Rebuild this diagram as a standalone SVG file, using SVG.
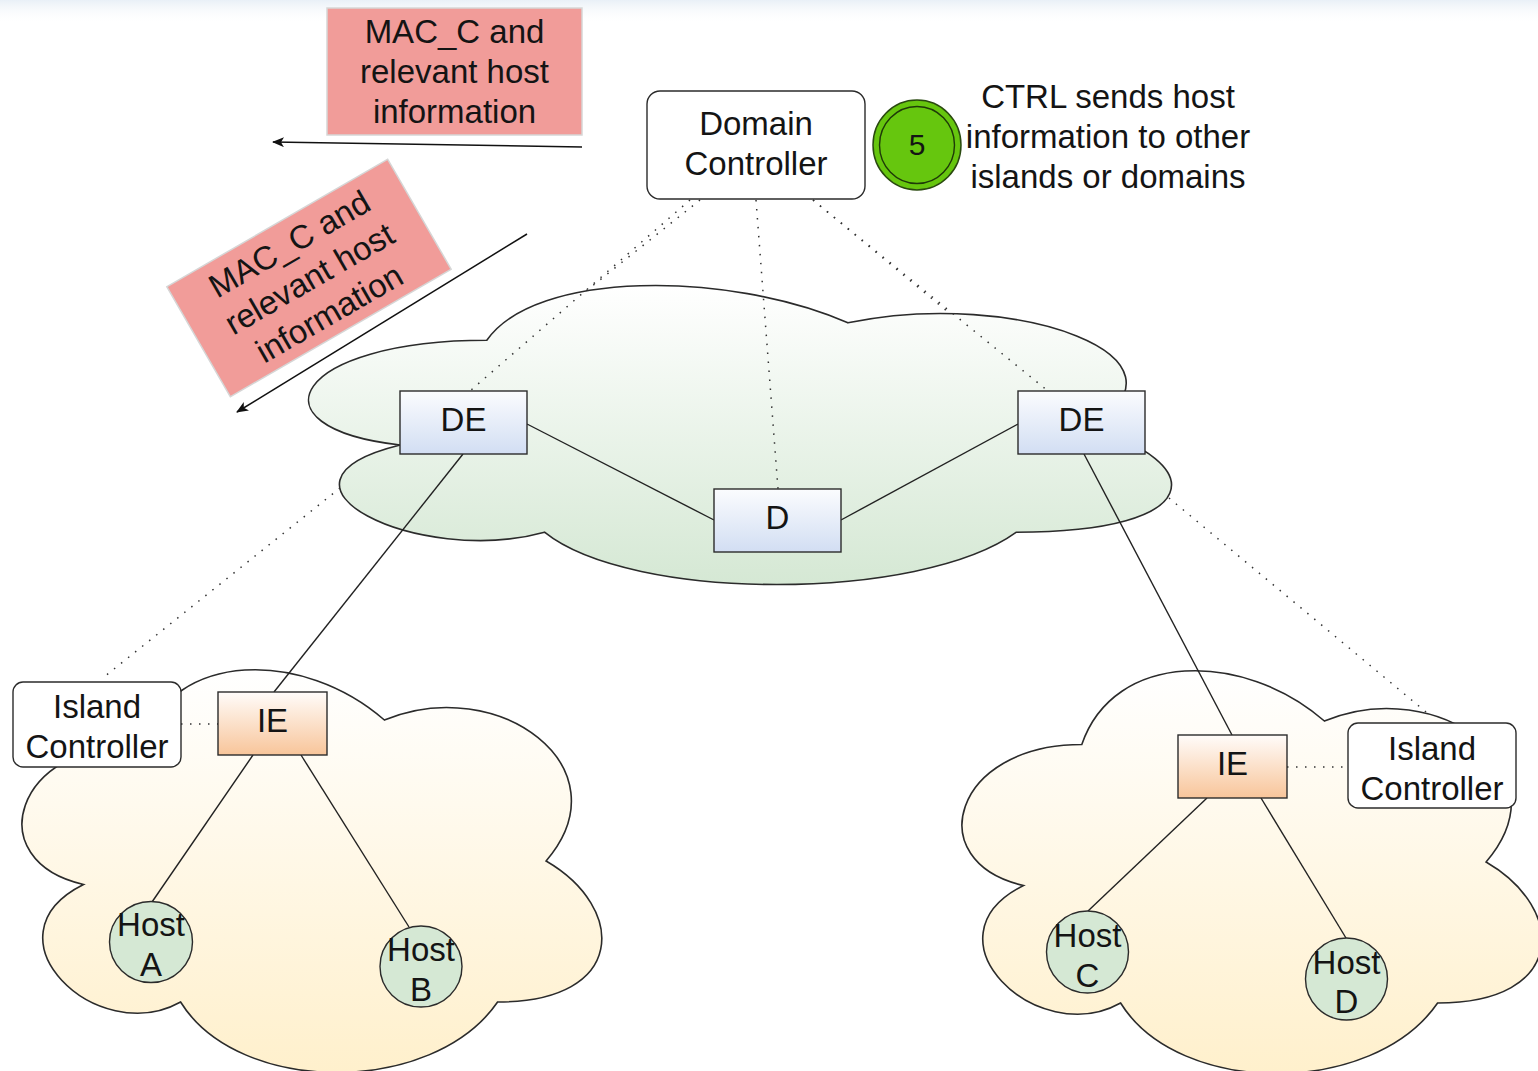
<svg xmlns="http://www.w3.org/2000/svg" width="1538" height="1071" viewBox="0 0 1538 1071">
<defs>
<style>
text{font-family:"Liberation Sans",Arial,Helvetica,sans-serif;font-size:33px;fill:#141414;text-anchor:middle}
.box{stroke:#2b2b2b;stroke-width:1.4}
.ctrl{fill:#ffffff;stroke:#2b2b2b;stroke-width:1.4}
.cloud{stroke:#2b2b2b;stroke-width:1.6}
.host{fill:#d5e8d4;stroke:#2b2b2b;stroke-width:1.4}
.label{fill:#f19c99;stroke:#d6d6d6;stroke-width:1.5}
.solid{fill:none;stroke:#222;stroke-width:1.4}
.dot{fill:none;stroke:#333;stroke-width:1.5;stroke-dasharray:1.5 7.5}
.arrow{fill:none;stroke:#111;stroke-width:1.5;marker-end:url(#arr)}
</style>
<linearGradient id="gTop" x1="0" y1="0" x2="0" y2="1"><stop offset="0" stop-color="#e9f0f7"/><stop offset="1" stop-color="#ffffff" stop-opacity="0"/></linearGradient>
<linearGradient id="gGreen" x1="0" y1="0" x2="0" y2="1"><stop offset="0" stop-color="#ffffff"/><stop offset="1" stop-color="#d5e8d4"/></linearGradient>
<linearGradient id="gYellow" x1="0" y1="0" x2="0" y2="1"><stop offset="0" stop-color="#ffffff"/><stop offset="1" stop-color="#fff0cc"/></linearGradient>
<linearGradient id="gBlue" x1="0" y1="0" x2="0" y2="1"><stop offset="0" stop-color="#fbfcfe"/><stop offset="1" stop-color="#d2def3"/></linearGradient>
<linearGradient id="gOrange" x1="0" y1="0" x2="0" y2="1"><stop offset="0" stop-color="#fffcfa"/><stop offset="1" stop-color="#f8c59a"/></linearGradient>
<marker id="arr" viewBox="0 0 12 10" refX="11" refY="5" markerWidth="12" markerHeight="10" markerUnits="userSpaceOnUse" orient="auto">
<path d="M0,0 L12,5 L0,10 L3,5 Z" fill="#111"/>
</marker>
</defs>
<rect x="0" y="0" width="1538" height="1071" fill="#ffffff"/>
<rect x="0" y="0" width="1538" height="24" fill="url(#gTop)"/>

<g id="clouds">
<path id="cloud-domain" class="cloud" fill="url(#gGreen)" d="M486.8,340.3 C294.2,340.3 246,427.5 400.1,445 C246,483.3 419.3,567.1 544.5,532.2 C631.2,602 920.1,602 1016.4,532.2 C1209,532.2 1209,462.4 1088.6,427.5 C1209,357.7 1016.4,287.9 847.9,322.8 C727.5,270.5 534.9,270.5 486.8,340.3 Z"/>
<path id="cloud-island-left" class="cloud" fill="url(#gYellow)" d="M141.8,743.5 C12.4,743.5 -20,861 83.5,884.5 C-20,936.2 96.5,1049 180.6,1002 C238.8,1096 432.9,1096 497.6,1002 C627,1002 627,908 546.1,861 C627,767 497.6,673 384.4,720 C303.5,649.5 174.1,649.5 141.8,743.5 Z"/>
<path id="cloud-island-right" class="cloud" fill="url(#gYellow)" d="M1081.8,744.5 C952.4,744.5 920,862 1023.5,885.5 C920,937.2 1036.5,1050 1120.6,1003 C1178.8,1097 1372.9,1097 1437.6,1003 C1567,1003 1567,909 1486.1,862 C1567,768 1437.6,674 1324.4,721 C1243.5,650.5 1114.1,650.5 1081.8,744.5 Z"/>
</g>

<g id="connectors">
<path class="arrow" d="M582,147 L273,142"/>
<path class="arrow" d="M527,234 L237,412"/>
<path class="dot" d="M700,200 L586,291 M340,488 L104,677"/>
<path class="dot" d="M813,200 L948,312 M1169,498 L1426,712"/>
<path class="dot" d="M690,200 L470,391"/>
<path class="dot" d="M756,200 L778,489"/>
<path class="dot" d="M813,200 L1048,391"/>
<path class="dot" d="M181,724 L218,724"/>
<path class="dot" d="M1287,767 L1348,767"/>
<path class="solid" d="M527,424 L714,520"/>
<path class="solid" d="M841,520 L1018,424"/>
<path class="solid" d="M463,454 L274,692"/>
<path class="solid" d="M1084,454 L1232,735"/>
<path class="solid" d="M253,755 L152,902"/>
<path class="solid" d="M301,755 L409,927"/>
<path class="solid" d="M1207,798 L1088,911"/>
<path class="solid" d="M1261,798 L1346,938"/>
</g>

<g id="label-top">
<rect class="label" x="327" y="8" width="255" height="127"/>
<text x="454.5" y="43">MAC_C and</text>
<text x="454.5" y="83">relevant host</text>
<text x="454.5" y="123">information</text>
</g>

<g id="label-rotated" transform="translate(309,278) rotate(-30)">
<rect class="label" x="-127.5" y="-63.5" width="255" height="127"/>
<text x="0" y="-28">MAC_C and</text>
<text x="0" y="12">relevant host</text>
<text x="0" y="52">information</text>
</g>

<g id="domain-controller">
<rect class="ctrl" x="647" y="91" width="218" height="108" rx="13"/>
<text x="756" y="135">Domain</text>
<text x="756" y="175">Controller</text>
</g>

<g id="step-5">
<ellipse cx="917" cy="145" rx="44" ry="45" fill="#66c60e" stroke="#2a4a10" stroke-width="1.5"/>
<ellipse cx="917" cy="145" rx="37.5" ry="38.5" fill="none" stroke="#1e3a08" stroke-width="1.4"/>
<text x="917" y="155" style="font-size:30px">5</text>
</g>

<g id="step-5-note">
<text x="1108" y="108">CTRL sends host</text>
<text x="1108" y="148">information to other</text>
<text x="1108" y="188">islands or domains</text>
</g>

<g id="de-left">
<rect class="box" fill="url(#gBlue)" x="400" y="391" width="127" height="63"/>
<text x="463.5" y="431">DE</text>
</g>
<g id="de-right">
<rect class="box" fill="url(#gBlue)" x="1018" y="391" width="127" height="63"/>
<text x="1081.5" y="431">DE</text>
</g>
<g id="d">
<rect class="box" fill="url(#gBlue)" x="714" y="489" width="127" height="63"/>
<text x="777.5" y="529">D</text>
</g>

<g id="ie-left">
<rect class="box" fill="url(#gOrange)" x="218" y="692" width="109" height="63"/>
<text x="272.5" y="732">IE</text>
</g>
<g id="ie-right">
<rect class="box" fill="url(#gOrange)" x="1178" y="735" width="109" height="63"/>
<text x="1232.5" y="775">IE</text>
</g>

<g id="island-controller-left">
<rect class="ctrl" x="13" y="682" width="168" height="85" rx="10"/>
<text x="97" y="718">Island</text>
<text x="97" y="758">Controller</text>
</g>
<g id="island-controller-right">
<rect class="ctrl" x="1348" y="723" width="168" height="85" rx="10"/>
<text x="1432" y="760">Island</text>
<text x="1432" y="800">Controller</text>
</g>

<g id="host-a">
<ellipse class="host" cx="151" cy="942" rx="41.5" ry="40.5"/>
<text x="151" y="936">Host</text>
<text x="151" y="976">A</text>
</g>
<g id="host-b">
<ellipse class="host" cx="421" cy="966.5" rx="41" ry="40.5"/>
<text x="421" y="961">Host</text>
<text x="421" y="1001">B</text>
</g>
<g id="host-c">
<ellipse class="host" cx="1087.5" cy="952" rx="41" ry="41"/>
<text x="1087.5" y="947">Host</text>
<text x="1087.5" y="987">C</text>
</g>
<g id="host-d">
<ellipse class="host" cx="1346.5" cy="979" rx="41" ry="41"/>
<text x="1346.5" y="974">Host</text>
<text x="1346.5" y="1013">D</text>
</g>
</svg>
